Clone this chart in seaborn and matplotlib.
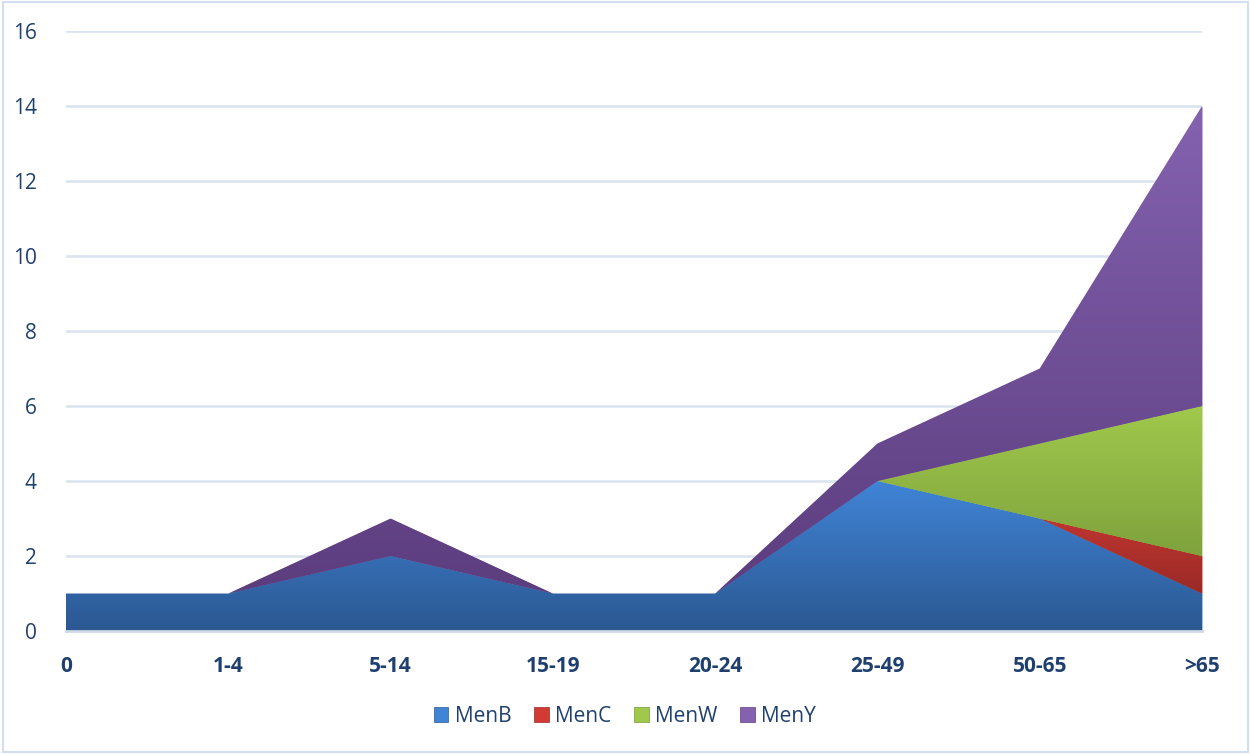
import numpy as np
import matplotlib
matplotlib.use("Agg")
import matplotlib.pyplot as plt
from matplotlib.colors import LinearSegmentedColormap
from matplotlib.patches import Rectangle, Patch
import seaborn as sns

# data
age_groups = ['0', '1-4', '5-14', '15-19', '20-24', '25-49', '50-65', '>65']
menb = [1, 1, 2, 1, 1, 4, 3, 1]
menc = [0, 0, 0, 0, 0, 0, 0, 1]
menw = [0, 0, 0, 0, 0, 0, 2, 4]
meny = [0, 0, 1, 0, 0, 1, 2, 8]
series_names = ['MenB', 'MenC', 'MenW', 'MenY']

# gradient colours (top, bottom)
grads = [('#4084d6', '#2b5892'),
         ('#d23b34', '#9a2a27'),
         ('#a0c94c', '#77993a'),
         ('#8462b0', '#5c3d7e')]

sns.set_theme(style='white')
plt.rcParams['font.family'] = ['Open Sans', 'DejaVu Sans']
text_col = '#1f406f'
grid_col = '#d9e3f0'

fig = plt.figure(figsize=(12.5, 7.54), dpi=100)
ax = fig.add_axes([66 / 1250, 1 - 631 / 754, (1202 - 66) / 1250, 600 / 754])

x = np.arange(len(age_groups))
values = [menb, menc, menw, meny]
base = np.zeros(len(x))
for vals, (ctop, cbot) in zip(values, grads):
    top = base + np.array(vals)
    poly = ax.fill_between(x, base, top, color=ctop, linewidth=0, zorder=2)
    lo, hi = base.min(), top.max()
    cmap = LinearSegmentedColormap.from_list('g', [cbot, ctop])
    grad = np.linspace(0, 1, 256).reshape(-1, 1)
    im = ax.imshow(grad, cmap=cmap, origin='lower', aspect='auto',
                   extent=[0, len(x) - 1, lo, hi], zorder=3)
    path = poly.get_paths()[0]
    im.set_clip_path(path, ax.transData)
    base = top

ax.set_xlim(0, len(x) - 1)
ax.set_ylim(0, 16)
ax.set_yticks(range(0, 17, 2))
ax.set_xticks(x)
ax.set_xticklabels(age_groups, fontsize=15, fontweight='bold', color=text_col)
ax.tick_params(axis='y', length=0, pad=21, labelsize=15, labelcolor=text_col)
ax.tick_params(axis='x', length=6, width=1.5, color=grid_col, pad=12, direction='out')
ax.grid(axis='y', color=grid_col, linewidth=1.8, zorder=0)
ax.set_axisbelow(True)
for side in ['top', 'right', 'left']:
    ax.spines[side].set_visible(False)
ax.spines['bottom'].set_color('#cfd8e6')
ax.spines['bottom'].set_linewidth(2)
ax.spines['bottom'].set_zorder(5)

handles = [Patch(facecolor=c[0], edgecolor=c[1], linewidth=0.5) for c in grads]
fig.legend(handles, series_names, loc='center', bbox_to_anchor=(0.5, 1 - 716 / 754),
           ncol=4, frameon=False, fontsize=15, labelcolor=text_col,
           handlelength=0.7, handleheight=0.7, handletextpad=0.3, columnspacing=1.1)

fig.patches.append(Rectangle((0.002, 0.002), 0.996, 0.996, transform=fig.transFigure,
                             fill=False, edgecolor='#d3deee', linewidth=1.5))

fig.savefig('out.png', dpi=100, facecolor='white')
